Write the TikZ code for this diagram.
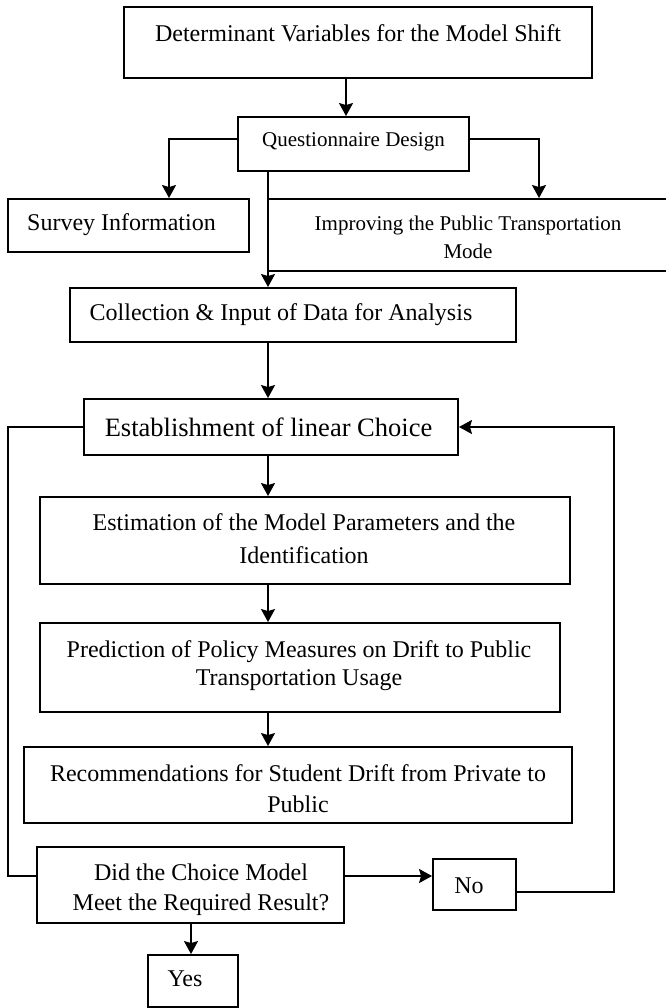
\documentclass[tikz,border=0pt]{standalone}
\usepackage{fontspec}
\setmainfont{Liberation Serif}
\usetikzlibrary{arrows.meta}
\tikzset{
  box/.style={draw, line width=1.9pt, inner sep=0pt},
  txt/.style={inner sep=0pt, align=center},
  arr/.style={line width=1.9pt, -{Stealth[length=13pt,width=14pt,inset=2pt]}},
  con/.style={line width=1.9pt},
}
\newcommand{\fs}[2]{\fontsize{#1}{#2}\selectfont}
\begin{document}
\begin{tikzpicture}[x=1pt,y=-1pt]
\useasboundingbox (0,0) rectangle (665,1008);
% boxes
\node[box, minimum width=468pt, minimum height=71pt] (b1) at (358,42.5) {};
\node[txt, font=\fs{24}{28}] (t1) at (358,33) {Determinant Variables for the Model Shift};
\node[box, minimum width=231pt, minimum height=54pt] (q) at (353.5,144) {};
\node[txt, font=\fs{21}{26}] (tq) at (353.5,142) {Questionnaire Design};
\node[box, minimum width=241pt, minimum height=53pt] (sv) at (128.5,225.5) {};
\node[txt, font=\fs{24}{28}] (tsv) at (121.5,225) {Survey Information};
\node[box, minimum width=420pt, minimum height=72pt] (imp) at (478,235) {};
\node[txt, font=\fs{21}{28}] (timp) at (468,237) {Improving the Public Transportation\\Mode};
\node[box, minimum width=446pt, minimum height=54pt] (col) at (293,315) {};
\node[txt, font=\fs{24}{28}] (tcol) at (281,315) {Collection \& Input of Data for Analysis};
\node[box, minimum width=374pt, minimum height=56pt] (est) at (271,427) {};
\node[txt, font=\fs{26.5}{30}] (test) at (268.5,427) {Establishment of linear Choice};
\node[box, minimum width=530pt, minimum height=87pt] (em) at (305,540.5) {};
\node[txt, font=\fs{24}{33}] (tem) at (304,538.5) {Estimation of the Model Parameters and the\\Identification};
\node[box, minimum width=520pt, minimum height=89pt] (pr) at (300,667.5) {};
\node[txt, font=\fs{24}{28}] (tpr) at (299,666) {Prediction of Policy Measures on Drift to Public\\Transportation Usage};
\node[box, minimum width=548pt, minimum height=76pt] (rc) at (298,785) {};
\node[txt, font=\fs{24}{31}] (trc) at (298,788.5) {Recommendations for Student Drift from Private to\\Public};
\node[box, minimum width=307pt, minimum height=76pt] (did) at (190.5,885) {};
\node[txt, font=\fs{24}{30}] (tdid) at (201,890) {Did the Choice Model\\Meet the Required Result?};
\node[box, minimum width=83pt, minimum height=51pt] (no) at (474.5,884.5) {};
\node[txt, font=\fs{24}{28}] (tno) at (469,886) {No};
\node[box, minimum width=90pt, minimum height=52pt] (yes) at (193,981) {};
\node[txt, font=\fs{24}{28}] (tyes) at (185,979) {Yes};
% helper coordinates
\coordinate (c1) at (346,0);
\coordinate (kL) at (169,139);
\coordinate (kR) at (539,139);
\coordinate (kM) at (268,0);
\coordinate (kLL) at (8,0);
\coordinate (ky) at (0,876);
\coordinate (kRR) at (614,892);
\coordinate (kY) at (191,0);
% connectors
\draw[arr] (b1.south -| c1) -- (q.north -| c1);
\draw[arr] (q.west |- kL) -- (kL) -- (kL |- sv.north);
\draw[arr] (q.east |- kR) -- (kR) -- (kR |- imp.north);
\draw[arr] (q.south -| kM) -- (col.north -| kM);
\draw[arr] (col.south -| kM) -- (est.north -| kM);
\draw[arr] (est.south -| kM) -- (em.north -| kM);
\draw[arr] (em.south -| kM) -- (pr.north -| kM);
\draw[arr] (pr.south -| kM) -- (rc.north -| kM);
\draw[con] (est.west) -- (kLL |- est.west) -- (kLL |- ky) -- (did.west |- ky);
\draw[arr] (did.east |- ky) -- (no.west |- ky);
\draw[arr] (no.east |- kRR) -- (kRR) -- (kRR |- est.east) -- (est.east);
\draw[arr] (did.south -| kY) -- (yes.north -| kY);
\end{tikzpicture}
\end{document}
